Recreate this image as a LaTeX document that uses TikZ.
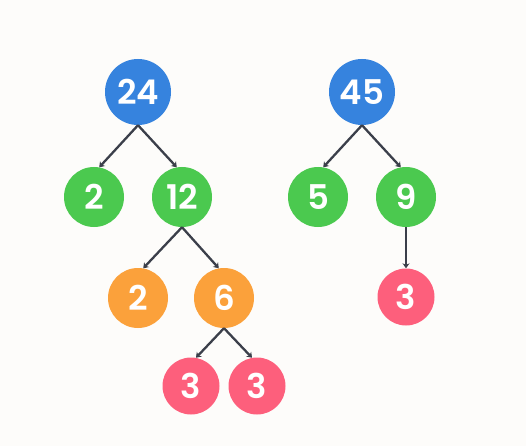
\documentclass[tikz,border=0pt]{standalone}
\usepackage{fontspec}
\setmainfont{Poppins}
\newfontfamily\numfont{Poppins SemiBold}
\usepackage{tikz}
\usetikzlibrary{shapes,arrows,arrows.meta,positioning}

\definecolor{bgpaper}{HTML}{FDFCFA}
\definecolor{rootblue}{HTML}{3683DE}
\definecolor{leafgreen}{HTML}{4BC94F}
\definecolor{midorange}{HTML}{FBA13B}
\definecolor{endpink}{HTML}{FD5F7C}
\definecolor{edgegrey}{HTML}{3B3F4A}

\begin{document}
\begin{tikzpicture}[x=1pt, y=-1pt, on grid, node distance=105pt and 44pt, >={Stealth[length=5pt,width=7pt]}]
    \tikzset{
        n/.style        =   { circle
                            , text centered
                            , text=white
                            , font=\numfont\fontsize{34}{34}\selectfont
                            , inner sep=0pt
                            , minimum size=60pt
        }
        , root/.style   =   { n
                            , fill=rootblue
                            , minimum size=66pt
        }
        , green/.style  =   { n
                            , fill=leafgreen
        }
        , orange/.style =   { n
                            , fill=midorange
        }
        , pink/.style   =   { n
                            , fill=endpink
                            , minimum size=57pt
        }
        , arrow/.style  =   { line width=2.3pt
                            , draw=edgegrey
        }
    }
    \fill[bgpaper] (0,0) rectangle (526,446);
    \useasboundingbox (0,0) rectangle (526,446);

    % first tree
    \node(24)[root] at (138,92) {24};
    \node(2a)[green, below left=of 24] {2};
    \node(12)[green, below right=of 24] {12};
    \node(2b)[orange, below left=101pt and 44pt of 12] {2};
    \node(6)[orange, below right=101pt and 42pt of 12] {6};
    \node(3a)[pink, below left=88pt and 33pt of 6] {3};
    \node(3b)[pink, below right=88pt and 33pt of 6] {3};

    % second tree
    \node(45)[root] at (362,92) {45};
    \node(5)[green, below left=of 45] {5};
    \node(9)[green, below right=of 45] {9};
    \node(3c)[pink, below=100pt of 9] {3};

    \draw[arrow,->] (24.south) -- (2a.80);
    \draw[arrow,->] (24.south) -- (12.100);
    \draw[arrow,->] (12.south) -- (2b.80);
    \draw[arrow,->] (12.south) -- (6.100);
    \draw[arrow,->] (6.south)  -- (3a.80);
    \draw[arrow,->] (6.south)  -- (3b.100);
    \draw[arrow,->] (45.south) -- (5.80);
    \draw[arrow,->] (45.south) -- (9.100);
    \draw[arrow,->] (9.south)  -- (3c.north);
\end{tikzpicture}
\end{document}
